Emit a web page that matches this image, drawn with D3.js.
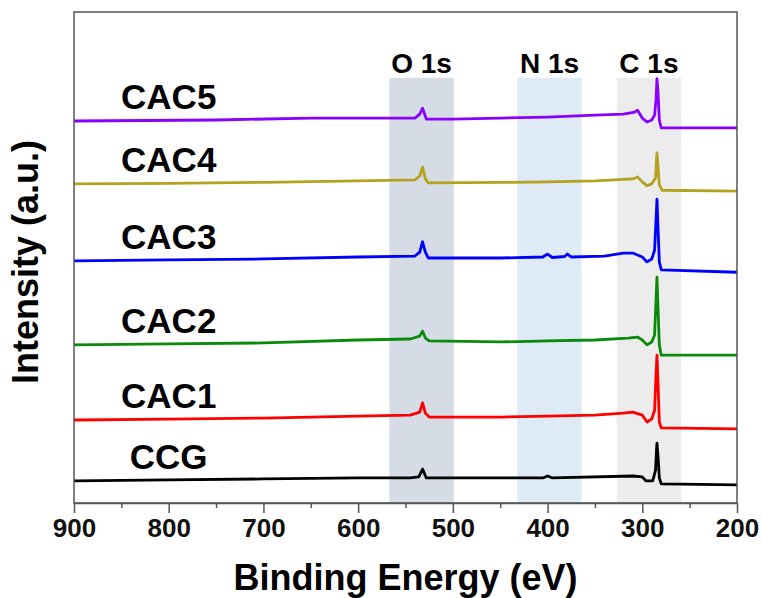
<!DOCTYPE html>
<html>
<head>
<meta charset="utf-8">
<script src="https://cdn.jsdelivr.net/npm/d3@7"></script>
<style>
  html, body { margin: 0; padding: 0; background: #fff; }
  svg { display: block; font-family: "Liberation Sans", Arial, sans-serif; }
</style>
</head>
<body>
<svg id="chart" width="763" height="598"></svg>
<script>
// binding energy (eV) vs intensity (a.u., stacked as plotted)
const ccg = [[900,4.5],[800,4.7],[700,4.9],[600,5.1],[545,5.1],[536,5.3],[532,6.9],[528,5.1],[450,5.1],[405,5.1],[400,5.5],[395,5.1],[310,5.5],[300,5.3],[296,4.5],[289,4.5],[286,6.7],[285,10.8],[284.5,12.2],[283.5,9.8],[282,5.1],[280,3.9],[200,3.7]];
const cac1 = [[900,16.9],[800,17.1],[700,17.3],[600,17.7],[545,17.9],[535,18.5],[532,20.4],[529,18.3],[525,17.5],[450,17.5],[400,17.7],[350,17.9],[320,18.3],[310,18.5],[300,17.9],[295,16.5],[290,17.1],[287,18.9],[285.5,26.1],[284.5,30.1],[283.5,25.1],[282,16.5],[280,15.3],[200,15.1]];
const cac2 = [[900,32.2],[800,32.4],[700,32.6],[600,33.2],[545,33.4],[535,34.0],[532,35.0],[529,33.6],[525,33.0],[450,32.8],[400,33.0],[350,33.2],[315,33.6],[305,33.8],[300,33.2],[295,32.2],[290,32.8],[287,34.2],[285.5,41.3],[284.5,46.0],[283.5,40.3],[282,32.2],[280,30.1],[200,30.1]];
const cac3 = [[900,49.3],[800,49.5],[700,49.7],[600,50.1],[540,50.3],[535,51.1],[532,53.2],[529,51.1],[526,49.9],[450,49.9],[405,50.1],[400,50.7],[395,50.0],[382,50.2],[379,50.7],[375,50.1],[340,50.3],[320,50.9],[310,50.9],[300,50.1],[295,49.1],[290,49.7],[287,51.5],[285.5,57.6],[284.5,61.9],[283.5,56.6],[282,49.1],[280,47.5],[200,47.0]];
const cac4 = [[900,65.0],[800,65.1],[700,65.3],[600,65.6],[540,65.8],[535,66.6],[532,68.4],[529,66.0],[526,65.2],[450,65.3],[400,65.4],[350,65.6],[310,66.0],[305,66.4],[300,65.4],[295,64.6],[290,65.0],[286,66.2],[285,69.8],[284.5,71.3],[283.5,68.8],[282,64.8],[279,63.7],[200,63.5]];
const cac5 = [[900,77.8],[750,78.0],[650,78.4],[540,78.4],[535,79.2],[532,80.4],[528,78.2],[500,78.2],[450,78.4],[400,78.6],[350,79.0],[320,79.2],[308,79.6],[305,80.0],[300,78.4],[295,77.6],[290,78.0],[287,79.0],[285.5,82.1],[284.5,86.4],[283.5,84.1],[282,78.0],[280,76.4],[200,76.4]];

const seriesNames = ["CCG", "CAC1", "CAC2", "CAC3", "CAC4", "CAC5"];
const seriesData = [ccg, cac1, cac2, cac3, cac4, cac5];
const seriesColors = ["#000000", "#ff0000", "#0a8a0a", "#0000ff", "#b3a31e", "#8a00ff"];

const bandNames = ["O 1s", "N 1s", "C 1s"];
const bandRanges = [[567, 499], [432, 364], [327, 259]];
const bandColors = ["#d5dce6", "#deeaf6", "#ececec"];

const xTicks = [900, 800, 700, 600, 500, 400, 300, 200];
const xMinorTicks = [850, 750, 650, 550, 450, 350, 250];

const width = 763, height = 598;
const margin = {top: 12, right: 26, bottom: 95, left: 74};

const svg = d3.select("#chart");

const x = d3.scaleLinear()
  .domain([900, 200])
  .range([margin.left, width - margin.right]);

const y = d3.scaleLinear()
  .domain([0, 100])
  .range([height - margin.bottom, margin.top]);

// shaded peak regions
const bandTop = 86.6;
const bands = svg.append("g").attr("class", "bands");
bands.selectAll("rect")
  .data(bandRanges)
  .join("rect")
  .attr("x", (d) => x(d[0]))
  .attr("width", (d) => x(d[1]) - x(d[0]))
  .attr("y", y(bandTop))
  .attr("height", y(0) - y(bandTop))
  .attr("fill", (d, i) => bandColors[i]);

bands.selectAll("text")
  .data(bandRanges)
  .join("text")
  .attr("x", (d) => (x(d[0]) + x(d[1])) / 2)
  .attr("y", y(bandTop) - 5)
  .attr("text-anchor", "middle")
  .attr("font-size", 28)
  .attr("font-weight", "bold")
  .text((d, i) => bandNames[i]);

// spectra
const line = d3.line()
  .x((d) => x(d[0]))
  .y((d) => y(d[1]));

svg.append("g")
  .attr("class", "spectra")
  .selectAll("path")
  .data(seriesData)
  .join("path")
  .attr("d", line)
  .attr("fill", "none")
  .attr("stroke", (d, i) => seriesColors[i])
  .attr("stroke-width", 2.8)
  .attr("stroke-linejoin", "round");

svg.append("g")
  .attr("class", "series-labels")
  .selectAll("text")
  .data(seriesData)
  .join("text")
  .attr("x", x(800))
  .attr("y", (d) => y(d[0][1]) - 12)
  .attr("text-anchor", "middle")
  .attr("font-size", 35)
  .attr("font-weight", "bold")
  .text((d, i) => seriesNames[i]);

// frame
svg.append("rect")
  .attr("x", margin.left)
  .attr("y", margin.top)
  .attr("width", width - margin.left - margin.right)
  .attr("height", height - margin.top - margin.bottom)
  .attr("fill", "none")
  .attr("stroke", "#555")
  .attr("stroke-width", 1.5);

// bottom axis, major and minor ticks
const xAxis = svg.append("g")
  .attr("transform", `translate(0,${height - margin.bottom})`)
  .call(d3.axisBottom(x).tickValues(xTicks).tickSize(10).tickSizeOuter(0).tickPadding(6));
xAxis.select(".domain").attr("stroke", "#555").attr("stroke-width", 1.5);
xAxis.selectAll(".tick line").attr("stroke", "#555").attr("stroke-width", 1.5);
xAxis.selectAll(".tick text")
  .attr("font-family", "'Liberation Sans', Arial, sans-serif")
  .attr("font-size", 26)
  .attr("font-weight", "bold")
  .attr("fill", "#111");

const xMinor = svg.append("g")
  .attr("transform", `translate(0,${height - margin.bottom})`)
  .call(d3.axisBottom(x).tickValues(xMinorTicks).tickSize(5).tickFormat(""));
xMinor.select(".domain").remove();
xMinor.selectAll(".tick line").attr("stroke", "#555").attr("stroke-width", 1.5);

// axis titles
svg.append("text")
  .attr("x", (margin.left + width - margin.right) / 2)
  .attr("y", 590)
  .attr("text-anchor", "middle")
  .attr("font-size", 36)
  .attr("font-weight", "bold")
  .text("Binding Energy (eV)");

svg.append("text")
  .attr("transform", "translate(38,262) rotate(-90)")
  .attr("text-anchor", "middle")
  .attr("font-size", 36)
  .attr("font-weight", "bold")
  .text("Intensity (a.u.)");
</script>
</body>
</html>
